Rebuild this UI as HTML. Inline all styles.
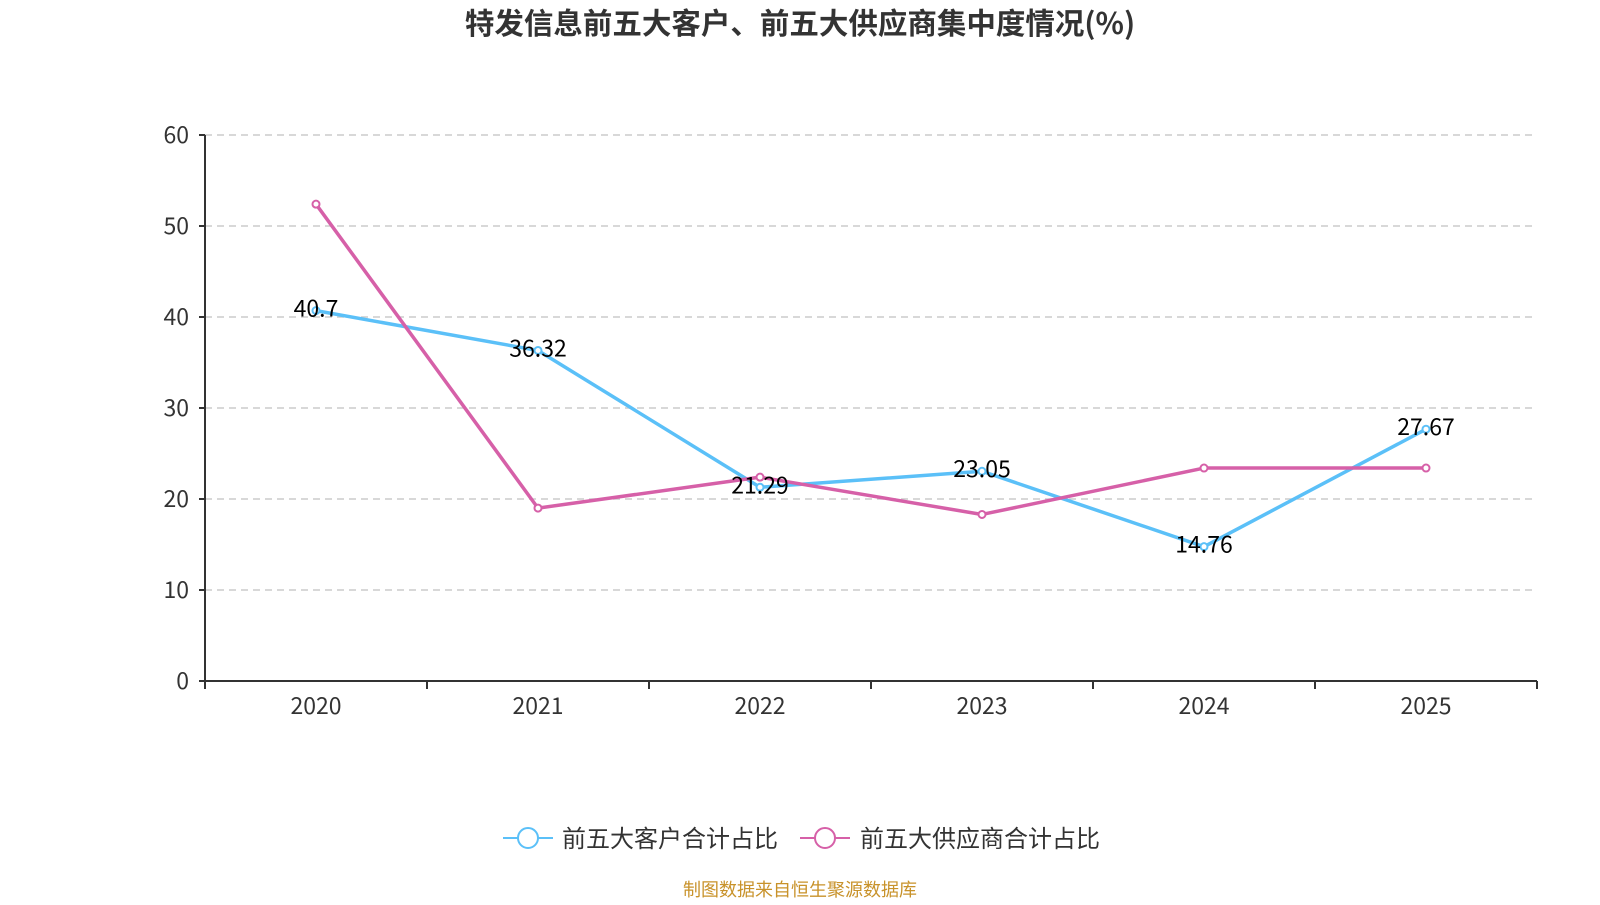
<!DOCTYPE html>
<html><head><meta charset="utf-8">
<style>
html,body{margin:0;padding:0;background:#fff;}
body{width:1600px;height:900px;overflow:hidden;font-family:"Liberation Sans","Noto Sans CJK SC",sans-serif;}
</style></head>
<body>
<svg id="chart" width="1600" height="900" xmlns="http://www.w3.org/2000/svg" font-family="'Noto Sans CJK SC','Liberation Sans',sans-serif">
<text x="800" y="34" text-anchor="middle" font-size="29.5" font-weight="bold" fill="#333">特发信息前五大客户、前五大供应商集中度情况(%)</text>
<g id="grid"></g><g id="axes"></g><g id="series"></g>
<g>
 <g>
  <line x1="503" y1="838" x2="553" y2="838" stroke="#5bc0f8" stroke-width="2"/>
  <circle cx="528" cy="838" r="10" fill="#fff" stroke="#5bc0f8" stroke-width="2"/>
  <text x="562" y="847" font-size="24" fill="#333">前五大客户合计占比</text>
 </g>
 <g>
  <line x1="800" y1="838" x2="850" y2="838" stroke="#d660a8" stroke-width="2"/>
  <circle cx="825" cy="838" r="10" fill="#fff" stroke="#d660a8" stroke-width="2"/>
  <text x="860" y="847" font-size="24" fill="#333">前五大供应商合计占比</text>
 </g>
</g>
<text x="800" y="896" text-anchor="middle" font-size="18" fill="#c8922a">制图数据来自恒生聚源数据库</text>
</svg>
<script>
const categories=["2020","2021","2022","2023","2024","2025"];
const customerValues=[40.7,36.32,21.29,23.05,14.76,27.67];
const supplierValues=[52.4,19.0,22.4,18.3,23.4,23.4];
const yTicks=[0,10,20,30,40,50,60];
const NS="http://www.w3.org/2000/svg";
const L=205,R=1537,T=135,B=681,yMax=60;
const band=(R-L)/categories.length;
const xs=i=>L+band*(i+0.5);
const ys=v=>B-(v/yMax)*(B-T);
function mk(tag,attrs,parent,text){const e=document.createElementNS(NS,tag);for(const k in attrs)e.setAttribute(k,attrs[k]);if(text!==undefined)e.textContent=text;parent.appendChild(e);return e;}
const grid=document.getElementById('grid'),axes=document.getElementById('axes'),series=document.getElementById('series');
yTicks.forEach(t=>{
 const y=ys(t);
 if(t>0){const g=mk('line',{x1:L,x2:R,y1:y,y2:y,stroke:'#ccc','stroke-width':1.5,'stroke-dasharray':'7,5'},grid);
 
 }
 mk('line',{x1:L-6,x2:L,y1:y,y2:y,stroke:'#333','stroke-width':2},axes);
 const tl=mk('text',{x:L-16,y:y+8,'text-anchor':'end','font-size':23,fill:'#333'},axes,String(t));
 
 
});
const ya=mk('line',{x1:L,x2:L,y1:T,y2:B,stroke:'#333','stroke-width':2},axes);


const xa=mk('line',{x1:L,x2:R,y1:B,y2:B,stroke:'#333','stroke-width':2},axes);


for(let i=0;i<=categories.length;i++){mk('line',{x1:L+band*i,x2:L+band*i,y1:B,y2:B+8,stroke:'#333','stroke-width':2},axes);}
categories.forEach((c,i)=>{
 const t=mk('text',{x:xs(i),y:B+33,'text-anchor':'middle','font-size':23,fill:'#333'},axes,c);
 
 
});
function drawSeries(vals,color,name){
 const p=mk('polyline',{points:vals.map((v,i)=>xs(i)+','+ys(v)).join(' '),fill:'none',stroke:color,'stroke-width':3.5,'stroke-linejoin':'round'},series);
 
 
 vals.forEach((v,i)=>{
  const c=mk('circle',{cx:xs(i),cy:ys(v),r:3.5,fill:'#fff',stroke:color,'stroke-width':2},series);
  
  
 });
}
drawSeries(customerValues,'#5bc0f8','customers');
drawSeries(supplierValues,'#d660a8','suppliers');
customerValues.forEach((v,i)=>{
 const t=mk('text',{x:xs(i),y:ys(v)+6,'text-anchor':'middle','font-size':23,fill:'#000'},series,String(v));
 
 
});
</script>
</body></html>
